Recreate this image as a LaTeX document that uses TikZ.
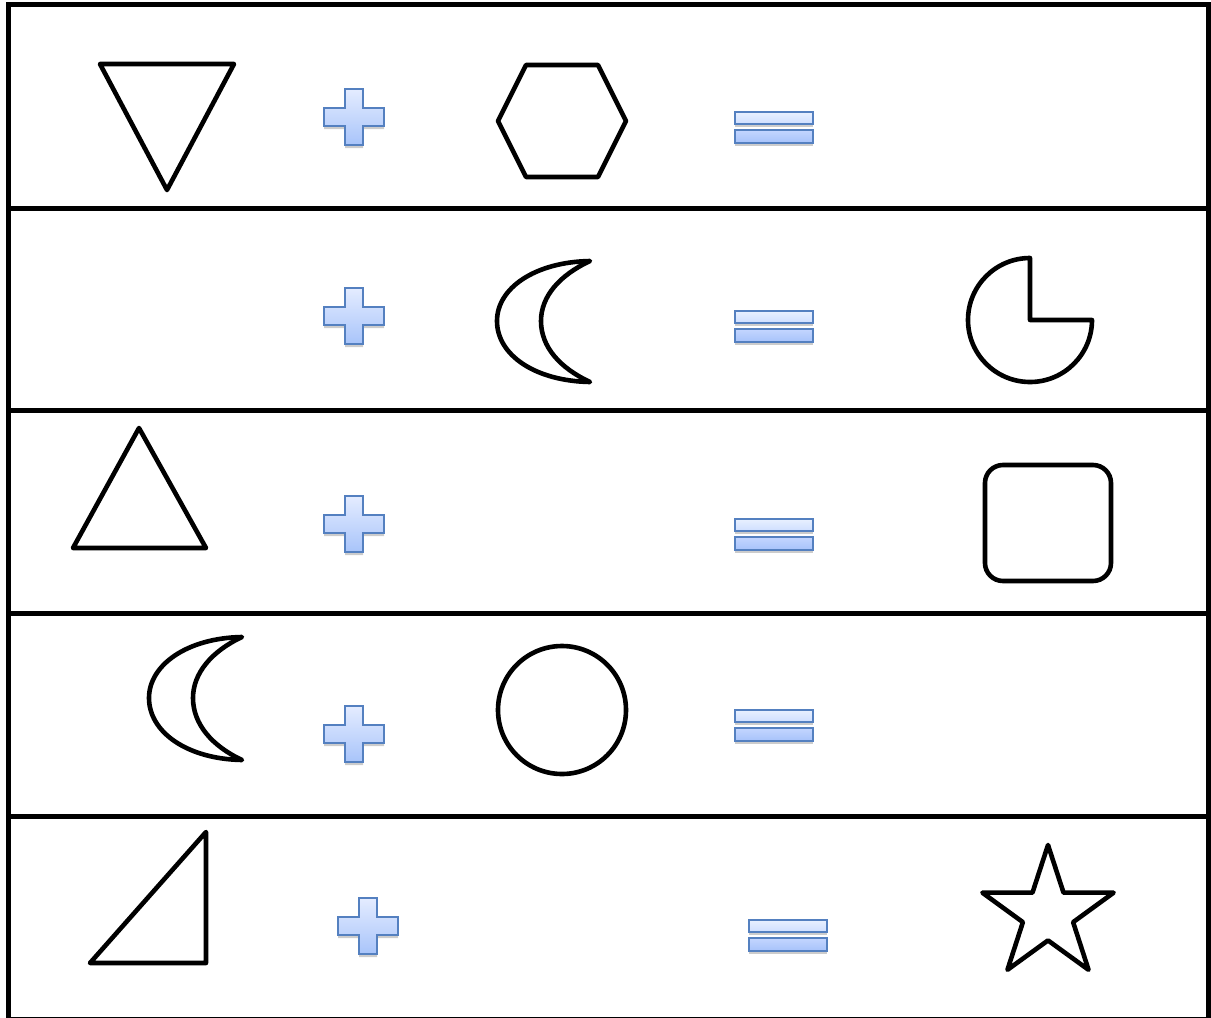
\documentclass[tikz,border=0pt]{standalone}
\usetikzlibrary{shadows}
\definecolor{pltop}{RGB}{228,236,255}
\definecolor{plbot}{RGB}{168,196,250}
\definecolor{plstroke}{RGB}{84,128,192}
\definecolor{eqtop1}{RGB}{232,240,255}
\definecolor{eqbot1}{RGB}{206,222,255}
\definecolor{eqtop2}{RGB}{196,214,255}
\definecolor{eqbot2}{RGB}{166,194,250}
\tikzset{
  shp/.style={draw=black, line width=4.6pt, line join=round, fill=white},
  framebox/.style={draw=black, line width=5pt},
  symshadow/.style={drop shadow={shadow xshift=0pt, shadow yshift=-3pt, opacity=0.2, fill=black}},
  plussign/.pic={
    \draw[plstroke, line width=1.8pt, top color=pltop, bottom color=plbot, symshadow]
      (-9,-28) -- (9,-28) -- (9,-9) -- (30,-9) -- (30,9) -- (9,9) -- (9,28)
      -- (-9,28) -- (-9,9) -- (-30,9) -- (-30,-9) -- (-9,-9) -- cycle;
  },
  equalsign/.pic={
    \draw[plstroke, line width=1.8pt, top color=eqtop1, bottom color=eqbot1, symshadow]
      (-39,-15) rectangle (39,-3);
    \draw[plstroke, line width=1.8pt, top color=eqtop2, bottom color=eqbot2, symshadow]
      (-39,3) rectangle (39,16);
  }
}
\begin{document}
\begin{tikzpicture}[x=1pt, y=-1pt]
\useasboundingbox (0,0) rectangle (1211,1018);
\fill[white] (0,0) rectangle (1211,1018);
% frame and row dividers
\draw[framebox] (8,4.5) rectangle (1208,1019.8);
\foreach \yy in {208,410,613,816}
  \draw[framebox] (8,\yy) -- (1208,\yy);

% row 1
\draw[shp] (100,64) -- (234,64) -- (167,190) -- cycle;
\pic at (354,117) {plussign};
\draw[shp] (498,121) -- (526,65) -- (598,65) -- (626,121) -- (598,177) -- (526,177) -- cycle;
\pic at (774,127) {equalsign};

% row 2
\pic at (354,316) {plussign};
\draw[shp] (590,261) .. controls (535,262) and (497,288) .. (497,321)
  .. controls (497,355) and (535,381) .. (590,382)
  .. controls (560,368) and (541,347) .. (541,321)
  .. controls (541,296) and (560,275) .. (590,261) -- cycle;
\pic at (774,326) {equalsign};
\draw[shp] (1030,320) -- (1030,258) arc[start angle=-90, end angle=-360, radius=62] -- cycle;

% row 3
\draw[shp] (139,428) -- (206,548) -- (73,548) -- cycle;
\pic at (354,524) {plussign};
\pic at (774,534) {equalsign};
\draw[shp, rounded corners=18pt] (985,465) rectangle (1111,581);

% row 4
\draw[shp] (242,637) .. controls (187,638) and (149,665) .. (149,698)
  .. controls (149,732) and (187,759) .. (242,760)
  .. controls (212,746) and (193,724) .. (193,698)
  .. controls (193,673) and (212,651) .. (242,637) -- cycle;
\pic at (354,734) {plussign};
\draw[shp] (562,710) circle[radius=64];
\pic at (774,725) {equalsign};

% row 5
\draw[shp] (206,832) -- (206,963) -- (90,963) -- cycle;
\pic at (368,926) {plussign};
\pic at (788,935) {equalsign};
\draw[shp] (1048,845)
  \foreach \k in {1,...,9} {
    -- ({1048+(mod(\k,2)==1 ? 26.4 : 69)*sin(36*\k)}, {914-(mod(\k,2)==1 ? 26.4 : 69)*cos(36*\k)})
  } -- cycle;
\end{tikzpicture}
\end{document}
